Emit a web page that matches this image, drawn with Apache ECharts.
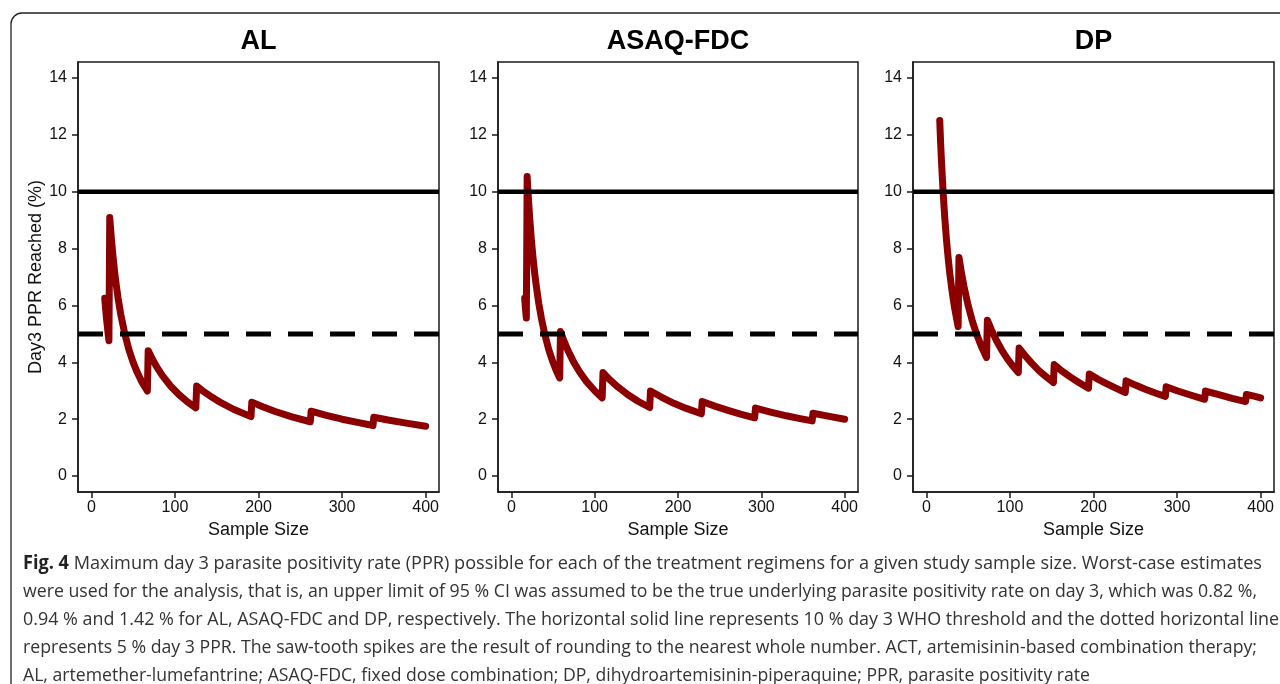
<!DOCTYPE html>
<html>
<head>
<meta charset="utf-8">
<script src="https://cdn.jsdelivr.net/npm/echarts@6/dist/echarts.min.js"></script>
<style>
html,body{margin:0;padding:0;background:#fff;}
#chart{width:1280px;height:684px;}
</style>
</head>
<body>
<div id="chart"></div>
<script>
// ---- Data ----
const panelTitles = ['AL', 'ASAQ-FDC', 'DP'];
const yTicks = [0, 2, 4, 6, 8, 10, 12, 14];
const xTicks = [0, 100, 200, 300, 400];
const whoThreshold = 10;
const pprLine = 5;

const alX = [16,18,21,22,23,24,26,28,30,32,35,40,45,50,55,60,67,68,72,78,85,95,105,115,125,126,135,145,155,170,191,192,205,220,240,262,263,280,300,320,337,338,355,375,400];
const alY = [6.25,5.56,4.76,9.09,8.70,8.33,7.69,7.14,6.67,6.25,5.71,5.00,4.44,4.00,3.64,3.33,2.99,4.41,4.17,3.85,3.53,3.16,2.86,2.61,2.40,3.17,2.96,2.76,2.58,2.35,2.09,2.60,2.44,2.27,2.08,1.91,2.28,2.14,2.00,1.88,1.78,2.07,1.97,1.87,1.75];

const asaqX = [16,17,18,19,20,22,24,26,28,30,33,36,40,45,50,54,58,59,63,68,75,82,90,100,109,110,118,128,140,152,166,167,180,195,210,228,229,245,260,275,292,293,310,330,345,361,362,380,400];
const asaqY = [6.25,5.88,5.56,10.53,10.00,9.09,8.33,7.69,7.14,6.67,6.06,5.56,5.00,4.44,4.00,3.70,3.45,5.08,4.76,4.41,4.00,3.66,3.33,3.00,2.75,3.64,3.39,3.13,2.86,2.63,2.41,2.99,2.78,2.56,2.38,2.19,2.62,2.45,2.31,2.18,2.05,2.39,2.26,2.12,2.03,1.94,2.21,2.11,2.00];

const dpX = [16,17,18,20,22,24,26,28,30,32,34,36,38,39,42,45,50,55,60,66,72,73,78,84,90,97,104,110,111,118,126,135,143,152,153,162,172,183,194,195,205,215,226,238,239,250,262,274,286,287,300,315,333,334,350,366,382,383,392,400];
const dpY = [12.50,11.76,11.11,10.00,9.09,8.33,7.69,7.14,6.67,6.25,5.88,5.56,5.26,7.69,7.14,6.67,6.00,5.45,5.00,4.55,4.17,5.48,5.13,4.76,4.44,4.12,3.85,3.64,4.50,4.24,3.97,3.70,3.50,3.29,3.92,3.70,3.49,3.28,3.09,3.59,3.41,3.26,3.10,2.94,3.35,3.20,3.05,2.92,2.80,3.14,3.00,2.86,2.70,2.99,2.86,2.73,2.62,2.87,2.81,2.75];

const captionLines = [
  'Maximum day 3 parasite positivity rate (PPR) possible for each of the treatment regimens for a given study sample size. Worst-case estimates',
  'were used for the analysis, that is, an upper limit of 95 % CI was assumed to be the true underlying parasite positivity rate on day 3, which was 0.82 %,',
  '0.94 % and 1.42 % for AL, ASAQ-FDC and DP, respectively. The horizontal solid line represents 10 % day 3 WHO threshold and the dotted horizontal line',
  'represents 5 % day 3 PPR. The saw-tooth spikes are the result of rounding to the nearest whole number. ACT, artemisinin-based combination therapy;',
  'AL, artemether-lumefantrine; ASAQ-FDC, fixed dose combination; DP, dihydroartemisinin-piperaquine; PPR, parasite positivity rate'
];
const captionLabel = 'Fig. 4';

// ---- Layout / style ----
const FONT = "'Liberation Sans', Arial, sans-serif";
const CAP_FONT = "'Open Sans', 'Noto Sans', sans-serif";
const grids = [
  {left: 78, top: 62, width: 361, height: 430},
  {left: 498, top: 62, width: 360, height: 430},
  {left: 913, top: 62, width: 361, height: 430}
];
const XMIN = -16, XMAX = 416, YMIN = -0.56, YMAX = 14.56;
const seriesXs = [alX, asaqX, dpX];
const seriesYs = [alY, asaqY, dpY];

const chart = echarts.init(document.getElementById('chart'), null, {renderer: 'canvas'});

const gridOpt = grids.map(g => Object.assign({show: true, borderColor: '#1a1a1a', borderWidth: 1.5, backgroundColor: 'transparent'}, g));
const xAxes = grids.map((g, i) => ({
  type: 'value', gridIndex: i, min: XMIN, max: XMAX,
  name: 'Sample Size', nameLocation: 'middle', nameGap: 22,
  nameTextStyle: {fontFamily: FONT, fontSize: 18, color: '#111'},
  axisLine: {show: true, onZero: false, lineStyle: {color: '#1a1a1a', width: 1.5}},
  axisTick: {show: true, inside: false, length: 6, customValues: xTicks, lineStyle: {color: '#1a1a1a', width: 1.5}},
  axisLabel: {show: true, margin: 8, customValues: xTicks, fontFamily: FONT, fontSize: 16, color: '#111'},
  splitLine: {show: false}
}));
const yAxes = grids.map((g, i) => ({
  type: 'value', gridIndex: i, min: YMIN, max: YMAX,
  name: i === 0 ? 'Day3 PPR Reached (%)' : '', nameLocation: 'middle', nameGap: 31, nameRotate: 90,
  nameTextStyle: {fontFamily: FONT, fontSize: 18, color: '#111'},
  axisLine: {show: true, onZero: false, lineStyle: {color: '#1a1a1a', width: 1.5}},
  axisTick: {show: true, inside: false, length: 6, customValues: yTicks, lineStyle: {color: '#1a1a1a', width: 1.5}},
  axisLabel: {show: true, margin: 11, customValues: yTicks, fontFamily: FONT, fontSize: 16, color: '#111'},
  splitLine: {show: false}
}));

const series = [];
grids.forEach((g, i) => {
  const xs = seriesXs[i], ys = seriesYs[i];
  series.push({
    type: 'line', name: panelTitles[i], xAxisIndex: i, yAxisIndex: i,
    data: xs.map((x, k) => [x, ys[k]]),
    showSymbol: false, symbol: 'none', smooth: false, z: 2,
    lineStyle: {color: '#8B0000', width: 7, cap: 'round', join: 'round'},
    animation: false
  });
  series.push({
    type: 'line', xAxisIndex: i, yAxisIndex: i,
    data: [[XMIN, whoThreshold], [XMAX, whoThreshold]],
    showSymbol: false, symbol: 'none', z: 3, silent: true,
    lineStyle: {color: '#000', width: 4.5}, animation: false
  });
  series.push({
    type: 'line', xAxisIndex: i, yAxisIndex: i,
    data: [[XMIN, pprLine], [XMAX, pprLine]],
    showSymbol: false, symbol: 'none', z: 3, silent: true,
    lineStyle: {color: '#000', width: 5, type: [25, 17]}, animation: false
  });
});

// caption measurement for horizontal fitting
const ctx = document.createElement('canvas').getContext('2d');
function w(text, weight, size) { ctx.font = weight + ' ' + size + 'px ' + CAP_FONT; return ctx.measureText(text).width; }
const CAP_SIZE = 19;
const capLeft = 23;
const capEnds = [1262, 1257, 1279, 1257, 1090];
const capMid = [564, 592, 620, 648, 676];
const graphics = [];
graphics.push({type: 'rect', shape: {x: 11, y: 13, width: 1320, height: 720, r: 11}, style: {fill: 'none', stroke: '#222', lineWidth: 1.3}, silent: true, z: 10});
grids.forEach((g, i) => {
  graphics.push({type: 'text', x: g.left + g.width / 2, y: 42, style: {text: panelTitles[i], font: 'bold 27px ' + FONT, fill: '#000', align: 'center', verticalAlign: 'middle'}, z: 10});
});
captionLines.forEach((line, i) => {
  let text, natural;
  if (i === 0) {
    text = '{b|' + captionLabel + '} ' + line;
    natural = w(captionLabel, 'bold', CAP_SIZE) + w(' ' + line, 'normal', CAP_SIZE);
  } else {
    text = line;
    natural = w(line, 'normal', CAP_SIZE);
  }
  const sx = (capEnds[i] - capLeft) / natural;
  graphics.push({
    type: 'text', x: capLeft, y: capMid[i], scaleX: sx, originX: 0, originY: 0,
    style: {
      text: text, fontFamily: CAP_FONT, fontSize: CAP_SIZE, fill: '#333', align: 'left', verticalAlign: 'middle',
      rich: {b: {fontFamily: CAP_FONT, fontSize: CAP_SIZE, fontWeight: 'bold', fill: '#222'}}
    }, z: 10
  });
});

chart.setOption({
  animation: false,
  backgroundColor: '#fff',
  grid: gridOpt,
  xAxis: xAxes,
  yAxis: yAxes,
  series: series,
  graphic: graphics
});
</script>
</body>
</html>
